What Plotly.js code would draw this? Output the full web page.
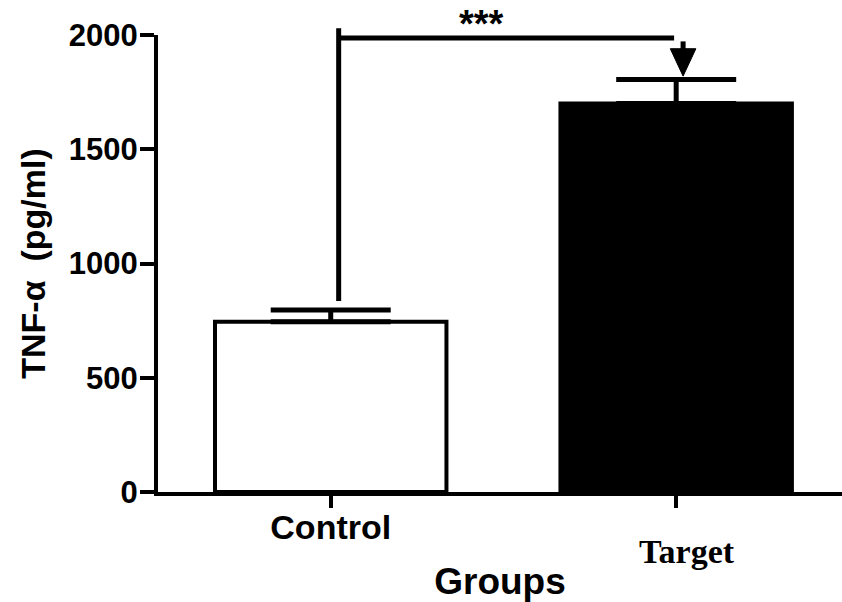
<!DOCTYPE html>
<html>
<head>
<meta charset="utf-8">
<script src="https://cdn.plot.ly/plotly-3.0.1.min.js"></script>
<style>html,body{margin:0;padding:0;background:#fff;}#chart{width:842px;height:602px;}</style>
</head>
<body>
<div id="chart"></div>
<script>
// ---- data ----
const categories = ["Control", "Target"];
const meanValues = [745, 1700];
const semValues = [52, 105];
const yTickValues = [0, 500, 1000, 1500, 2000];
const yTickLabels = ["0", "500", "1000", "1500", "2000"];
const significanceLabel = "***";
const xTitle = "Groups";
const yTitle = "TNF-α  (pg/ml)";

// ---- layout constants ----
const Y_MAX = 2000;
const p = v => v / Y_MAX; // data value -> paper fraction along y
const BLACK = "#000000";
const sans = "Liberation Sans, Arial, sans-serif";
const serif = "Liberation Serif, Times New Roman, serif";

const barTrace = {
  type: "bar",
  x: [0, 1],
  y: meanValues,
  width: 0.67,
  marker: {
    color: ["#ffffff", BLACK],
    line: { color: BLACK, width: 4 }
  },
  error_y: {
    type: "data",
    symmetric: false,
    array: semValues,
    arrayminus: semValues.map(() => 0),
    color: BLACK,
    thickness: 5,
    width: 60
  },
  hoverinfo: "skip",
  showlegend: false
};

// bracket geometry (annotation, not data)
const bx0 = 0.023, bx1 = 0.994, ax = 1.02, aw = 0.037;
const shapes = [
  { type: "line", xref: "x", yref: "paper", x0: bx0, x1: bx0, y0: p(836), y1: p(2030), line: { color: BLACK, width: 5 } },
  { type: "line", xref: "x", yref: "paper", x0: bx0, x1: bx1, y0: p(1987), y1: p(1987), line: { color: BLACK, width: 5 } },
  { type: "line", xref: "x", yref: "paper", x0: ax, x1: ax, y0: p(1930), y1: p(1972), line: { color: BLACK, width: 5 } },
  { type: "path", xref: "x", yref: "paper",
    path: `M ${ax - aw} ${p(1940)} L ${ax + aw} ${p(1940)} L ${ax} ${p(1820)} Z`,
    fillcolor: BLACK, line: { color: BLACK, width: 1 } }
];

const annotations = [
  { xref: "x", yref: "paper", x: 0.435, y: p(2050), text: significanceLabel, showarrow: false,
    font: { family: sans, size: 38, color: BLACK, weight: "bold" }, xanchor: "center", yanchor: "middle" },
  { xref: "x", yref: "paper", x: 1.03, y: -0.13, text: categories[1], showarrow: false,
    font: { family: serif, size: 34, color: BLACK, weight: "bold" }, xanchor: "center", yanchor: "middle" }
];

const layout = {
  width: 842, height: 602,
  margin: { l: 158, r: 0, t: 35, b: 110, pad: 0 },
  paper_bgcolor: "#ffffff",
  plot_bgcolor: "#ffffff",
  showlegend: false,
  xaxis: {
    range: [-0.5, 1.48],
    tickmode: "array",
    tickvals: [0, 1],
    ticktext: [categories[0], ""],
    ticks: "outside", ticklen: 12, tickwidth: 4, tickcolor: BLACK,
    ticklabelstandoff: -10,
    showline: true, linecolor: BLACK, linewidth: 4,
    showgrid: false, zeroline: false,
    tickfont: { family: sans, size: 34, color: BLACK, weight: "bold" },
    title: { text: xTitle, font: { family: sans, size: 37, color: BLACK, weight: "bold" }, standoff: 24 },
    fixedrange: true
  },
  yaxis: {
    range: [0, Y_MAX],
    tickmode: "array",
    tickvals: yTickValues,
    ticktext: yTickLabels,
    ticks: "outside", ticklen: 14, tickwidth: 4, tickcolor: BLACK,
    ticklabelstandoff: -4,
    showline: true, linecolor: BLACK, linewidth: 4,
    showgrid: false, zeroline: false,
    tickfont: { family: sans, size: 31, color: BLACK, weight: "bold" },
    title: { text: yTitle, font: { family: sans, size: 34, color: BLACK, weight: "bold" }, standoff: 14 },
    fixedrange: true
  },
  shapes: shapes,
  annotations: annotations
};

Plotly.newPlot("chart", [barTrace], layout, { staticPlot: true, displayModeBar: false });
</script>
</body>
</html>
